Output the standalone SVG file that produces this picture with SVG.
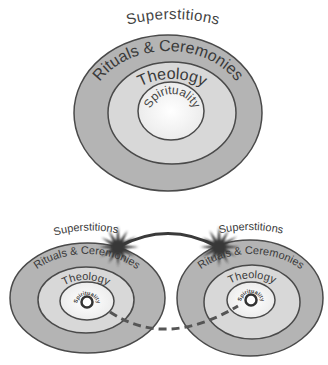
<svg xmlns="http://www.w3.org/2000/svg" width="328" height="365" viewBox="0 0 328 365">
<style>
.o{fill:#b4b4b4;stroke:#4a4a4a;stroke-width:1.5}
.m{fill:#d8d8d8;stroke:#4a4a4a;stroke-width:1.5}
.i{fill:url(#ig);stroke:#4a4a4a;stroke-width:1.5}
text{font-family:"Liberation Sans",Arial,sans-serif;fill:#3a3a3a}
.big{font-size:16px}
.sup{font-size:15px;letter-spacing:0.4px;fill:#444}
.sp{font-size:12px;fill:#444}
.s11{font-size:11px}
.s6{font-size:5.5px;font-weight:bold}
.star{fill:#383838}
</style>
<defs>
<radialGradient id="ig"><stop offset="0" stop-color="#ffffff"/><stop offset="1" stop-color="#ececec"/></radialGradient>
<path id="pSup" d="M114 29 Q172 9 232 29"/>
<path id="pRit" d="M89 113 A79 62 0 0 1 247 113"/>
<path id="pThe" d="M122 113 A50 34 0 0 1 222 113"/>
<path id="pSpi" d="M149 117 A23 23 0 0 1 195 117"/>
<path id="pSupL" d="M42 240 Q88 222 134 238"/>
<path id="pRitL" d="M20 300 A67 46 0 0 1 154 300"/>
<path id="pTheL" d="M53 302 A33 22 0 0 1 119 302"/>
<path id="pSpiL" d="M77 305 A10 10 0 0 1 97 305"/>
<path id="pSupR" d="M204 238 Q250 222 298 238"/>
<path id="pRitR" d="M184 300 A67 46 0 0 1 318 300"/>
<path id="pTheR" d="M218 302 A33 23 0 0 1 286 302"/>
<path id="pSpiR" d="M241 303 A10 10 0 0 1 261 303"/>
<filter id="bl" x="-30%" y="-30%" width="160%" height="160%"><feGaussianBlur stdDeviation="0.9"/></filter>
<path id="star" class="star" filter="url(#bl)" d="M21 0 L6.5 1.8 L17 9.5 L5 5 L9.5 17 L1.8 6.5 L0 20 L-1.8 6.5 L-9.5 16.5 L-5 5 L-17.5 10 L-6.5 1.8 L-19 0 L-6.5 -1.8 L-16.5 -9.5 L-5 -5 L-9.5 -16.5 L-1.8 -6.5 L0 -21 L1.8 -6.5 L9.5 -16.5 L5 -5 L18 -10.5 L6.5 -1.8 Z"/>
</defs>
<rect width="328" height="365" fill="#ffffff"/>

<g id="top">
<ellipse class="o" cx="168" cy="113" rx="94" ry="78"/>
<ellipse class="m" cx="172" cy="113" rx="64" ry="51"/>
<ellipse class="i" cx="171" cy="111" rx="33" ry="29"/>
<text class="sup"><textPath href="#pSup" startOffset="50%" text-anchor="middle">Superstitions</textPath></text>
<text class="big"><textPath href="#pRit" startOffset="50%" text-anchor="middle">Rituals &amp; Ceremonies</textPath></text>
<text class="big"><textPath href="#pThe" startOffset="50%" text-anchor="middle">Theology</textPath></text>
<text class="sp"><textPath href="#pSpi" startOffset="50%" text-anchor="middle">Spirituality</textPath></text>
</g>

<g id="left">
<ellipse class="o" cx="87.5" cy="298" rx="77.5" ry="55"/>
<ellipse class="m" cx="86" cy="300" rx="48" ry="33"/>
<ellipse class="i" cx="87" cy="301" rx="27" ry="19"/>
<circle cx="87" cy="302" r="5.5" fill="#ffffff" stroke="#333" stroke-width="2.5"/>
<text class="s11"><textPath href="#pSupL" startOffset="48%" text-anchor="middle">Superstitions</textPath></text>
<text class="s11"><textPath href="#pRitL" startOffset="50%" text-anchor="middle">Rituals &amp; Ceremonies</textPath></text>
<text class="s11"><textPath href="#pTheL" startOffset="50%" text-anchor="middle">Theology</textPath></text>
<text class="s6"><textPath href="#pSpiL" startOffset="50%" text-anchor="middle">Spirituality</textPath></text>
</g>

<g id="right">
<ellipse class="o" cx="250" cy="298" rx="73" ry="58"/>
<ellipse class="m" cx="252" cy="302" rx="48" ry="37"/>
<ellipse class="i" cx="251" cy="300" rx="24" ry="18"/>
<circle cx="251" cy="300" r="5.5" fill="#ffffff" stroke="#333" stroke-width="2.5"/>
<text class="s11"><textPath href="#pSupR" startOffset="50%" text-anchor="middle">Superstitions</textPath></text>
<text class="s11"><textPath href="#pRitR" startOffset="50%" text-anchor="middle">Rituals &amp; Ceremonies</textPath></text>
<text class="s11"><textPath href="#pTheR" startOffset="50%" text-anchor="middle">Theology</textPath></text>
<text class="s6"><textPath href="#pSpiR" startOffset="50%" text-anchor="middle">Spirituality</textPath></text>
</g>

<g id="connectors">
<path d="M118 247 Q168 220 218 247" fill="none" stroke="#3a3a3a" stroke-width="3"/>
<path d="M110 312 Q166 349 238 306" fill="none" stroke="#555" stroke-width="3" stroke-dasharray="8 5"/>
<use href="#star" x="118" y="247"/>
<use href="#star" x="219" y="247"/>
</g>
</svg>
